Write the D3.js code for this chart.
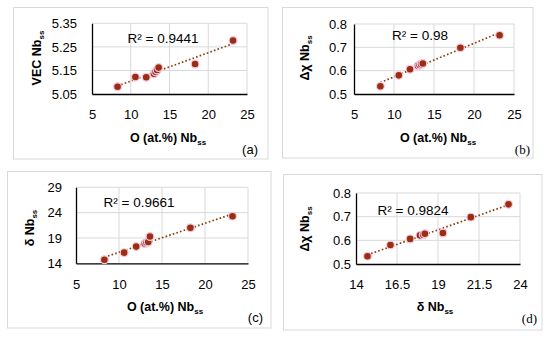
<!DOCTYPE html>
<html>
<head>
<meta charset="utf-8">
<script src="https://cdn.jsdelivr.net/npm/d3@7"></script>
<style>
  body { margin: 0; background: #fff; }
  text { font-family: "Liberation Sans", Arial, sans-serif; fill: #000; }
  .tick text { font-size: 13px; }
  .axis-title { font-size: 12.5px; font-weight: bold; }
  .r2 { font-size: 13.5px; }
  .tag { font-size: 13px; font-family: "Liberation Serif", serif; }
</style>
</head>
<body>
<div id="plot-container"></div>
<script>
// Values (same nine alloys in each)
const oxygen = [8.3, 10.6, 12.0, 13.0, 13.2, 13.4, 13.6, 18.3, 23.2];
const vec = [5.081, 5.122, 5.121, 5.136, 5.144, 5.152, 5.162, 5.177, 5.277];
const deltaChi = [0.533, 0.580, 0.606, 0.621, 0.624, 0.628, 0.631, 0.698, 0.752];
const delta = [14.7, 16.1, 17.3, 17.9, 18.1, 18.2, 19.3, 21.0, 23.3];

const oTicks = [5, 10, 15, 20, 25];
const vecTicks = [5.05, 5.15, 5.25, 5.35];
const chiTicks = [0.5, 0.6, 0.7, 0.8];
const deltaYTicks = [14, 19, 24, 29];
const deltaXTicks = [14, 16.5, 19, 21.5, 24];

const r2Labels = ["0.9441", "0.98", "0.9661", "0.9824"];
const panelTags = ["(a)", "(b)", "(c)", "(d)"];

const width = 550, height = 338;

const svg = d3.select("#plot-container")
    .append("svg")
    .attr("width", width)
    .attr("height", height);

// Layout for each panel (box, plot area, label positions)
const panels = [
    { x: oxygen, y: vec, xt: oTicks, yt: vecTicks, xFmt: d3.format("d"), yFmt: d3.format(".2f"),
      box: [13.5, 7.5, 254.5, 151.5], xr: [92, 247], yr: [94, 23.3], ypad: 15,
      xTitle: ["O (at.%) Nb", 168, 142], yTitle: ["VEC Nb", 41, 58],
      r2: [163, 43], tag: [258, 154], tagSans: true },
    { x: oxygen, y: deltaChi, xt: oTicks, yt: chiTicks, xFmt: d3.format("d"), yFmt: d3.format(".1f"),
      box: [282.5, 7.5, 250.5, 150.5], xr: [354, 514], yr: [94, 24], ypad: 7,
      xTitle: ["O (at.%) Nb", 438, 142], yTitle: ["\u0394\u03c7 Nb", 309, 58],
      r2: [420, 40], tag: [530, 154], tagSans: false },
    { x: oxygen, y: delta, xt: oTicks, yt: deltaYTicks, xFmt: d3.format("d"), yFmt: d3.format("d"),
      box: [7.5, 171.5, 263.5, 156.5], xr: [76, 248], yr: [263.3, 187.3], ypad: 14,
      xTitle: ["O (at.%) Nb", 165, 311], yTitle: ["\u03b4 Nb", 34, 228],
      r2: [139, 207], tag: [263, 322], tagSans: true },
    { x: delta, y: deltaChi, xt: deltaXTicks, yt: chiTicks, xFmt: d3.format(""), yFmt: d3.format(".1f"),
      box: [283.5, 174.5, 258.5, 155.5], xr: [356, 520], yr: [264, 193], ypad: 5,
      xTitle: ["\u03b4 Nb", 435, 311], yTitle: ["\u0394\u03c7 Nb", 309, 229],
      r2: [413, 215], tag: [537, 323], tagSans: false }
];

// Least-squares line for the trendline
function fitLine(xs, ys) {
    const mx = d3.mean(xs), my = d3.mean(ys);
    const sxy = d3.sum(xs, (v, i) => (v - mx) * (ys[i] - my));
    const sxx = d3.sum(xs, v => (v - mx) * (v - mx));
    const b = sxy / sxx;
    return x => my + b * (x - mx);
}

function addTitle(g, label, x, y, rotate) {
    const t = g.append("text")
        .attr("class", "axis-title")
        .attr("text-anchor", "middle")
        .attr("transform", rotate ? `translate(${x},${y}) rotate(-90)` : `translate(${x},${y})`);
    t.append("tspan").text(label);
    t.append("tspan").attr("dy", 3).style("font-size", "8px").text("ss");
}

function draw_panel(p, i) {
    const g = svg.append("g");

    g.append("rect")
        .attr("x", p.box[0]).attr("y", p.box[1])
        .attr("width", p.box[2]).attr("height", p.box[3])
        .attr("fill", "none")
        .attr("stroke", "#d9d9d9");

    const xScale = d3.scaleLinear()
        .domain([p.xt[0], p.xt[p.xt.length - 1]])
        .range(p.xr);
    const yScale = d3.scaleLinear()
        .domain([p.yt[0], p.yt[p.yt.length - 1]])
        .range(p.yr);

    // gridlines
    g.selectAll(".vgrid")
        .data(p.xt.slice(1))
        .enter().append("line")
        .attr("x1", d => xScale(d)).attr("x2", d => xScale(d))
        .attr("y1", p.yr[0]).attr("y2", p.yr[1])
        .attr("stroke", "#d9d9d9");
    g.selectAll(".hgrid")
        .data(p.yt.slice(1))
        .enter().append("line")
        .attr("x1", p.xr[0]).attr("x2", p.xr[1])
        .attr("y1", d => yScale(d)).attr("y2", d => yScale(d))
        .attr("stroke", "#d9d9d9");

    // axes
    const xAxis = g.append("g")
        .attr("transform", `translate(0,${p.yr[0]})`)
        .call(d3.axisBottom(xScale).tickValues(p.xt).tickFormat(p.xFmt).tickSize(0).tickPadding(16));
    xAxis.select(".domain").attr("stroke", "#000").attr("stroke-width", 1.3);

    const yAxis = g.append("g")
        .attr("transform", `translate(${p.xr[0]},0)`)
        .call(d3.axisLeft(yScale).tickValues(p.yt).tickFormat(p.yFmt).tickSize(0).tickPadding(p.ypad));
    yAxis.select(".domain").attr("stroke", "#000").attr("stroke-width", 1.3);
    g.selectAll(".tick text").attr("font-family", null);

    // trendline
    const f = fitLine(p.x, p.y);
    const x0 = d3.min(p.x), x1 = d3.max(p.x);
    g.append("line")
        .attr("x1", xScale(x0)).attr("y1", yScale(f(x0)))
        .attr("x2", xScale(x1)).attr("y2", yScale(f(x1)))
        .attr("stroke", "#8a3a0e")
        .attr("stroke-width", 1.7)
        .attr("stroke-dasharray", "1.6,2.2");

    // points
    g.selectAll(".pt")
        .data(p.x.map((v, k) => [v, p.y[k]]))
        .enter().append("circle")
        .attr("cx", d => xScale(d[0]))
        .attr("cy", d => yScale(d[1]))
        .attr("r", 3.9)
        .attr("fill", "#9b2e0c")
        .attr("stroke", "#f6c9e8")
        .attr("stroke-width", 1.2);

    addTitle(g, p.xTitle[0], p.xTitle[1], p.xTitle[2], false);
    addTitle(g, p.yTitle[0], p.yTitle[1], p.yTitle[2], true);

    g.append("text")
        .attr("class", "r2")
        .attr("x", p.r2[0]).attr("y", p.r2[1])
        .attr("text-anchor", "middle")
        .text(`R\u00b2 = ${r2Labels[i]}`);

    g.append("text")
        .attr("class", "tag")
        .attr("x", p.tag[0]).attr("y", p.tag[1])
        .attr("text-anchor", "end")
        .style("font-family", p.tagSans ? "'Liberation Sans', sans-serif" : null)
        .text(panelTags[i]);
}

panels.forEach(draw_panel);
</script>
</body>
</html>
